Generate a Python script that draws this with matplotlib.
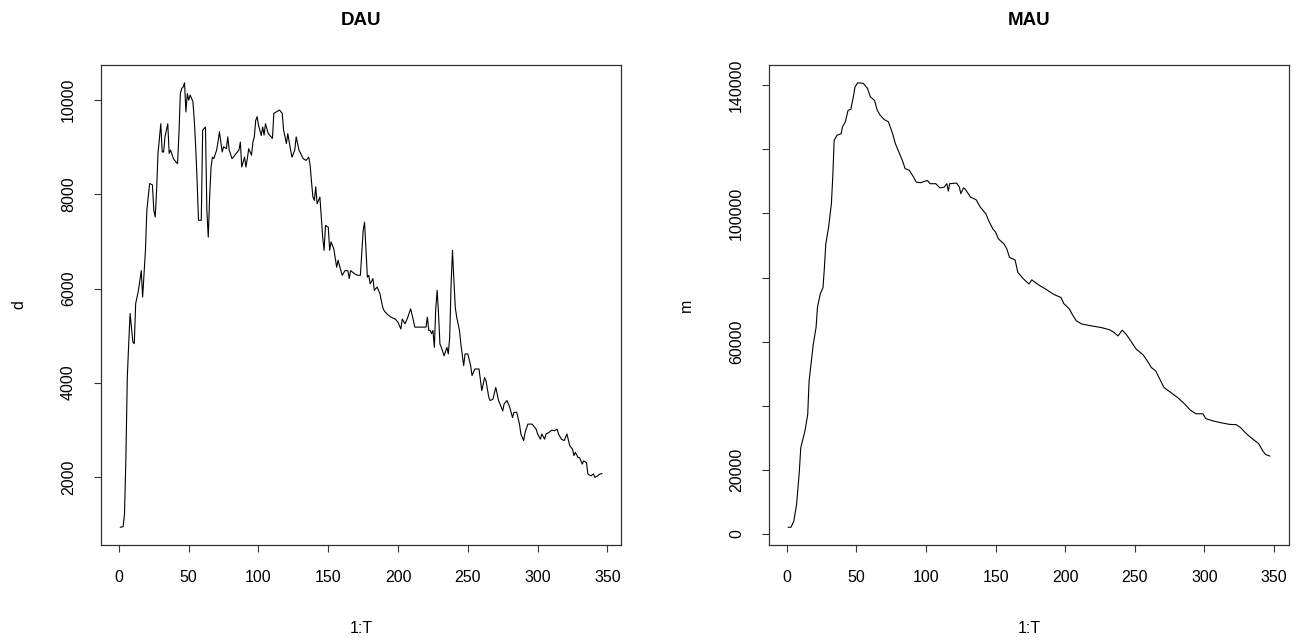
import matplotlib
matplotlib.use("Agg")
import matplotlib.pyplot as plt

# DAU (d)
dau_day = [1, 3, 4, 5, 6, 7, 8, 10, 11, 12, 14, 16, 17, 19, 20, 22, 24, 25, 26, 27,
           28, 30, 31, 32, 33, 35, 36, 37, 39, 40, 42, 43, 44, 45, 46, 47, 48, 49, 50, 51,
           53, 54, 55, 56, 57, 59, 60, 61, 62, 63, 64, 65, 66, 67, 68, 70, 71, 72, 74, 75,
           77, 78, 79, 81, 82, 84, 86, 87, 88, 90, 91, 92, 93, 95, 96, 97, 98, 99, 100, 102,
           103, 104, 105, 107, 110, 111, 115, 117, 118, 120, 121, 123, 124, 126, 127, 129, 132, 134, 136, 137,
           138, 139, 140, 141, 142, 144, 145, 146, 147, 148, 150, 151, 152, 154, 156, 157, 159, 160, 162, 164,
           165, 166, 169, 171, 173, 174, 175, 176, 177, 178, 179, 180, 182, 183, 185, 187, 189, 190, 192, 195,
           198, 200, 202, 203, 205, 207, 209, 211, 212, 215, 220, 221, 222, 223, 224, 225, 226, 227, 228, 229,
           230, 231, 233, 235, 236, 237, 238, 239, 240, 241, 242, 244, 245, 247, 248, 250, 252, 253, 255, 258,
           260, 262, 263, 265, 266, 268, 270, 272, 273, 275, 276, 278, 280, 282, 283, 285, 287, 288, 290, 291,
           293, 296, 299, 300, 302, 303, 305, 306, 308, 310, 312, 314, 315, 317, 319, 320, 321, 323, 325, 326,
           327, 329, 330, 332, 333, 335, 336, 338, 340, 341, 343, 344, 346]
dau = [930, 940, 1210, 2410, 4110, 4830, 5470, 4860, 4830, 5680, 5960, 6380, 5820, 6810, 7660, 8230, 8200, 7660, 7520, 8090,
       8870, 9500, 8900, 8900, 9220, 9500, 8870, 8940, 8760, 8720, 8650, 9290, 10140, 10250, 10280, 10370, 9750, 10140, 10000, 10110,
       9970, 9570, 9010, 8300, 7450, 7450, 9360, 9400, 9430, 7660, 7090, 7940, 8580, 8790, 8760, 8940, 9110, 9330, 8900, 9010,
       8970, 9220, 8940, 8760, 8790, 8870, 8940, 9110, 8580, 8790, 8580, 8760, 8970, 8830, 9110, 9220, 9570, 9650, 9470, 9250,
       9430, 9260, 9500, 9290, 9190, 9720, 9790, 9720, 9360, 9080, 9290, 8940, 8790, 8940, 9220, 8940, 8760, 8720, 8790, 8620,
       8260, 7940, 7870, 8160, 7800, 7940, 7520, 7090, 6810, 7340, 7300, 6810, 6990, 6840, 6450, 6600, 6380, 6280, 6380, 6380,
       6210, 6380, 6310, 6280, 6280, 6770, 7230, 7410, 6810, 6240, 6280, 6100, 6210, 5960, 6030, 5890, 5600, 5530, 5460, 5390,
       5350, 5280, 5140, 5350, 5250, 5390, 5570, 5320, 5180, 5180, 5180, 5390, 5110, 5110, 5040, 5110, 4750, 5570, 5960, 5460,
       4820, 4750, 4570, 4750, 4610, 4970, 6100, 6810, 6170, 5600, 5390, 5110, 4820, 4360, 4610, 4610, 4360, 4150, 4290, 4290,
       3830, 4110, 4040, 3690, 3620, 3650, 3900, 3620, 3550, 3400, 3550, 3620, 3480, 3260, 3370, 3370, 3120, 2910, 2770, 2940,
       3120, 3120, 3010, 2910, 2800, 2910, 2800, 2910, 2940, 2990, 2980, 3010, 2910, 2800, 2770, 2840, 2910, 2660, 2590, 2450,
       2520, 2410, 2410, 2270, 2340, 2300, 2060, 2020, 2060, 1990, 2020, 2050, 2070]

# MAU (m)
mau_day = [1, 3, 5, 7, 9, 10, 13, 15, 16, 19, 21, 22, 24, 26, 27, 28, 30, 32, 33, 34,
           36, 39, 40, 42, 44, 46, 48, 49, 51, 55, 58, 60, 63, 65, 67, 70, 73, 76, 78, 80,
           83, 85, 88, 91, 93, 96, 101, 103, 107, 110, 113, 115, 116, 117, 122, 124, 125, 127, 128, 132,
           136, 139, 143, 145, 148, 150, 152, 156, 158, 160, 164, 166, 170, 174, 176, 181, 186, 192, 197, 199,
           203, 205, 208, 212, 218, 226, 232, 235, 238, 241, 244, 247, 251, 256, 259, 262, 265, 268, 271, 276,
           281, 286, 290, 294, 299, 301, 306, 312, 318, 323, 326, 329, 332, 336, 339, 342, 344, 347]
mau = [2100, 2100, 4000, 9200, 19600, 26900, 32100, 37300, 47800, 59200, 64400, 70700, 74900, 76900, 83200, 90500, 95700, 103000, 111400, 122800,
       124400, 124900, 127000, 128600, 132200, 132500, 136900, 139500, 140800, 140600, 139000, 136400, 135300, 132200, 130700, 129300, 128600, 124900, 121800, 119700,
       116600, 114000, 113500, 111400, 109800, 109600, 110300, 109300, 109300, 108000, 108200, 109300, 107000, 109300, 109500, 108200, 106200, 108000, 107700, 105100,
       104300, 102000, 99900, 97800, 95200, 94200, 92100, 90500, 89000, 86300, 85500, 81600, 79600, 78000, 79300, 77700, 76400, 74700, 73800, 71900,
       70200, 68600, 66500, 65500, 65000, 64400, 63700, 62900, 61800, 63600, 62200, 60300, 57700, 55900, 54000, 51900, 50900, 48300, 45700, 44100,
       42500, 40500, 38600, 37500, 37500, 36000, 35300, 34700, 34200, 34100, 33200, 31800, 30600, 29200, 28200, 25900, 24800, 24300]

x_ticks = [0, 50, 100, 150, 200, 250, 300, 350]
dau_ticks = [2000, 4000, 6000, 8000, 10000]
mau_ticks = [0, 20000, 40000, 60000, 80000, 100000, 120000, 140000]
mau_tick_labels = ['0', '20000', '', '60000', '', '100000', '', '140000']

plt.rcParams['font.family'] = ['Liberation Sans', 'DejaVu Sans']

fig = plt.figure(figsize=(13.04, 6.42), dpi=100)
ax1 = fig.add_axes([0.0775, 0.1511, 0.3988, 0.7477])
ax2 = fig.add_axes([0.5897, 0.1511, 0.3988, 0.7477])

panels = [(ax1, dau_day, dau, 'DAU', 'd', dau_ticks, [str(v) for v in dau_ticks]),
          (ax2, mau_day, mau, 'MAU', 'm', mau_ticks, mau_tick_labels)]

for ax, xs, ys, title, ylab, yt, ytl in panels:
    ax.plot(xs, ys, color='black', lw=0.8)
    ax.margins(x=0.04, y=0.04)
    ax.set_xticks(x_ticks)
    ax.set_yticks(yt)
    ax.set_yticklabels(ytl, rotation=90, va='center')
    ax.tick_params(direction='out', length=5, width=0.8, labelsize=11.5, pad=13, color='#333333')
    for s in ax.spines.values():
        s.set_linewidth(0.9)
        s.set_color('#333333')
    ax.set_title(title, fontsize=13.5, fontweight='bold', pad=29)
    ax.set_xlabel('1:T', fontsize=11.5, labelpad=26)
    ax.set_ylabel(ylab, fontsize=11.5, labelpad=25)

fig.savefig('out.png', dpi=100)
